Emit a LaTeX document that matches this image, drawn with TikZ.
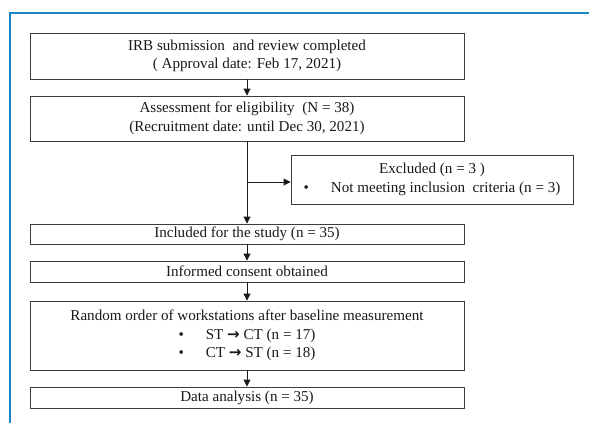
\documentclass[tikz,border=0pt]{standalone}
\usepackage{fontspec}
\setmainfont{Liberation Serif}
\newfontfamily\arrowfont{DejaVu Sans}
\usepackage{xcolor}
\usepackage{tikz}
\usetikzlibrary{arrows.meta,calc,positioning}
\definecolor{figInk}{HTML}{1A1A1A}
\definecolor{figEdge}{HTML}{3C3C3C}
\definecolor{figFrame}{HTML}{1B87C6}
\newcommand{\flowto}{{\arrowfont\bfseries →}}
\tikzset{
  flowbox/.style={draw=figEdge, fill=white, line width=0.9pt,
    text=figInk, align=center, inner sep=0pt, minimum width=434pt,
    font=\fontsize{15.1}{18.5}\selectfont},
  flowflow/.style={-{Triangle[length=7pt,width=7pt]}, draw=figInk,
    line width=0.9pt},
  flowframe/.style={draw=figFrame, line width=2.2pt},
}
\begin{document}
\begin{tikzpicture}[x=1pt,y=-1pt]
  \path[use as bounding box] (0,0) rectangle (589,423);
  \draw[flowframe] (10,423)--(10,13)--(589,13);

  % main column
  \node[flowbox,minimum height=46pt] (irb) at (247,56)
    {IRB submission\ \ and review completed\\( Approval date: Feb 17, 2021)};
  \node[flowbox,minimum height=45pt] (assess) at (247,118.5)
    {Assessment for eligibility\ \ (N = 38)\\(Recruitment date: until\ Dec 30, 2021)};
  \node[flowbox,minimum height=20pt] (included) at (247,234)
    {Included\ for the study (n = 35)};
  \node[flowbox,minimum height=21pt] (consent) at (247,271.5)
    {Informed consent obtained};
  \node[flowbox,minimum height=69pt] (random) at (247,335.5)
    {Random order of workstations after baseline measurement\\
     \textbullet\hspace{22pt}ST \flowto{} CT (n = 17)\\
     \textbullet\hspace{22pt}CT \flowto{} ST (n = 18)};
  \node[flowbox,minimum height=21pt] (analysis) at (247,397.5)
    {Data analysis (n = 35)};

  % side branch
  \node[flowbox,minimum width=282pt,minimum height=49pt] (excluded)
    at (432,179.5)
    {Excluded (n = 3 )\\
     \textbullet\hspace{22pt}Not meeting inclusion\ \ criteria (n = 3)};
  \coordinate (split) at (247,182);

  \draw[flowflow] (irb.south)--(assess.north);
  \draw[flowflow] (assess.south)--(included.north);
  \draw[flowflow] (split)--(split-|excluded.west);
  \draw[flowflow] (included.south)--(consent.north);
  \draw[flowflow] (consent.south)--(random.north);
  \draw[flowflow] (random.south)--(analysis.north);
\end{tikzpicture}
\end{document}
